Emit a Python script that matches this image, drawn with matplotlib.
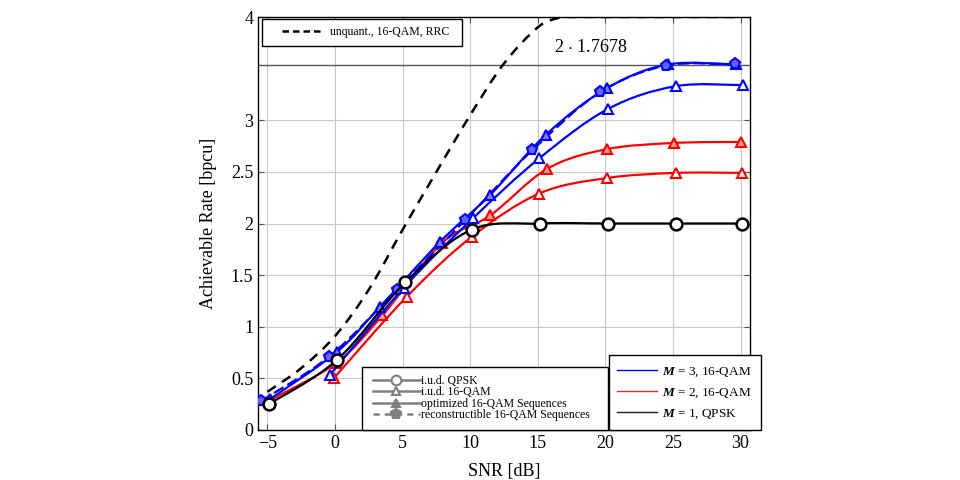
import numpy as np
import matplotlib
matplotlib.use('Agg')
import matplotlib.pyplot as plt
from matplotlib.path import Path
from matplotlib.patches import PathPatch, Rectangle
from matplotlib.lines import Line2D

plt.rcParams['font.family'] = ['Liberation Serif', 'DejaVu Serif']
plt.rcParams['mathtext.fontset'] = 'custom'
plt.rcParams['mathtext.rm'] = 'Liberation Serif'
plt.rcParams['mathtext.it'] = 'Liberation Serif:italic'
plt.rcParams['mathtext.bf'] = 'Liberation Serif:italic:bold'

# ---------------- data ----------------
unq_snr = [-5, -2.5, 0, 2.5, 5, 7.5, 10, 12.5, 15, 16.5, 17.5, 20, 25, 30]
unq_rate = [0.37, 0.60, 0.91, 1.36, 1.94, 2.50, 3.05, 3.55, 3.90, 3.99, 4.00, 4.00, 4.00, 4.00]

qpsk_snr = [-4.9, 0.15, 5.2, 10.1, 15.2, 20.2, 25.2, 30.1]
qpsk_rate = [0.25, 0.68, 1.43, 1.94, 2.00, 2.00, 2.00, 2.00]

iud2_snr = [-0.1, 5.3, 10.1, 15.1, 20.1, 25.2, 30.1]
iud2_rate = [0.50, 1.29, 1.87, 2.29, 2.44, 2.49, 2.49]

opt2_snr = [-4.8, 0.1, 3.5, 7.9, 11.5, 15.7, 20.1, 25.1, 30.0]
opt2_rate = [0.29, 0.65, 1.11, 1.81, 2.08, 2.53, 2.72, 2.78, 2.79]

iud3_snr = [-0.4, 5.1, 10.2, 15.1, 20.2, 25.2, 30.2]
iud3_rate = [0.53, 1.38, 2.05, 2.63, 3.11, 3.33, 3.34]

opt3_snr = [-4.8, 0.17, 3.3, 7.75, 11.5, 15.6, 20.1, 24.6, 29.7]
opt3_rate = [0.30, 0.76, 1.19, 1.82, 2.28, 2.86, 3.31, 3.54, 3.54]

rec3_snr = [-5.5, -0.45, 4.6, 9.6, 14.6, 19.6, 24.5, 29.6]
rec3_rate = [0.28, 0.71, 1.36, 2.03, 2.71, 3.27, 3.53, 3.54]

bound_value = 2 * 1.7678
bound_label = r'2 $\cdot$ 1.7678'

x_ticks = [-5, 0, 5, 10, 15, 20, 25, 30]
y_ticks = [0, 0.5, 1, 1.5, 2, 2.5, 3, 4]
y_ticklabels = ['0', '0.5', '1', '1.5', '2', '2.5', '3', '4']

BLUE = '#0000ff'
RED = '#ff0000'
BLACK = '#000000'
GRAY = '#808080'


def smooth_path(x, y, k=1.0):
    P = np.column_stack([x, y]).astype(float)
    n = len(P)
    verts = [P[0]]
    codes = [Path.MOVETO]
    for i in range(n - 1):
        p0 = P[i - 1] if i > 0 else P[i]
        p1 = P[i]
        p2 = P[i + 1]
        p3 = P[i + 2] if i + 2 < n else P[i + 1]
        c1 = p1 + (p2 - p0) / 6 * k
        c2 = p2 - (p3 - p1) / 6 * k
        verts += [c1, c2, p2]
        codes += [Path.CURVE4] * 3
    return Path(verts, codes)


def curve(ax, x, y, color, ls='-', lw=1.6, z=3, marker=None, mfc='white', ms=7, mew=1.5):
    ax.add_patch(PathPatch(smooth_path(x, y), fill=False, edgecolor=color,
                           linestyle=ls, lw=lw, zorder=z))
    if marker is not None:
        ax.plot(x, y, linestyle='none', marker=marker, ms=ms, mfc=mfc, mec=color,
                mew=mew, zorder=z + 0.5)


fig = plt.figure(figsize=(9.6, 4.8), dpi=100)
ax = fig.add_axes([258 / 960, 50 / 480, 492 / 960, 413 / 480])
ax.set_xlim(-5.7, 30.7)
ax.set_ylim(0, 4)

ax.set_xticks(x_ticks)
ax.set_yticks(y_ticks)
ax.set_yticklabels(y_ticklabels)
ax.grid(True, color='#c8c8c8', lw=0.8, zorder=0)
ax.set_axisbelow(True)
ax.tick_params(direction='in', top=True, right=True, length=4, labelsize=13,
               color='#555555')
for s in ax.spines.values():
    s.set_linewidth(1.0)

ax.axhline(bound_value, color='#555555', lw=1.0, zorder=1)
ax.text(18.9, 3.70, bound_label, ha='center', va='center', fontsize=13)

# unquantized bound
curve(ax, unq_snr, unq_rate, BLACK, ls=(0, (4, 3)), lw=1.8, z=2)

# M = 2 (red)
curve(ax, iud2_snr, iud2_rate, RED, marker='^', mfc='white', z=3)
curve(ax, opt2_snr, opt2_rate, RED, marker='^', mfc='#ff9a9a', z=3.2)
# M = 3 (blue)
curve(ax, iud3_snr, iud3_rate, BLUE, marker='^', mfc='white', z=4)
curve(ax, opt3_snr, opt3_rate, BLUE, marker='^', mfc='#8080ff', z=4.2)
curve(ax, rec3_snr, rec3_rate, BLUE, ls=(0, (5, 2)), marker='p', mfc='#6464ff', ms=8, z=4.6)
# M = 1 (black)
curve(ax, qpsk_snr, qpsk_rate, BLACK, marker='o', mfc='white', ms=8.5, mew=1.8, z=6)

ax.set_xlabel('SNR [dB]', fontsize=13, labelpad=8)
ax.set_ylabel('Achievable Rate [bpcu]', fontsize=13, labelpad=10)

# ---------------- legends ----------------
def frame(x0, y0, w, h):
    ax.add_patch(Rectangle((x0, y0), w, h, transform=ax.transAxes, facecolor='white',
                           edgecolor='black', lw=1.0, zorder=9, clip_on=False))

# legend 1
frame(0.0081, 0.930, 0.4065, 0.066)
h1 = [Line2D([], [], color=BLACK, ls=(0, (2.6, 1.6)), lw=1.8)]
lg1 = ax.legend(h1, ['unquant., 16-QAM, RRC'], loc='upper left',
                bbox_to_anchor=(0.048, 0.979), frameon=False, fontsize=8.5,
                handlelength=3.4, handletextpad=0.7, borderpad=0, borderaxespad=0)
lg1.set_zorder(10)
ax.add_artist(lg1)

# legend 2 (marker legend)
frame(0.211, 0.0, 0.50, 0.153)
h2 = [Line2D([], [], color=GRAY, lw=1.8, marker='o', ms=7, mfc='white', mew=1.5),
      Line2D([], [], color=GRAY, lw=1.8, marker='^', ms=6, mfc='white', mew=1.5),
      Line2D([], [], color=GRAY, lw=1.8, marker='^', ms=6, mfc=GRAY, mew=1.5),
      Line2D([], [], color=GRAY, lw=1.8, ls=(0, (2.5, 2)), marker='p', ms=7, mfc=GRAY, mew=1.5)]
l2 = ['i.u.d. QPSK', 'i.u.d. 16-QAM', 'optimized 16-QAM Sequences',
      'reconstructible 16-QAM Sequences']
lg2 = ax.legend(h2, l2, loc='upper left', bbox_to_anchor=(0.233, 0.133),
                frameon=False, fontsize=8.5, labelspacing=-0.05,
                handlelength=4.0, handletextpad=0.1, borderpad=0, borderaxespad=0)
lg2.set_zorder(10)
ax.add_artist(lg2)

# legend 3 (colour legend)
frame(0.7134, 0.0, 0.309, 0.1816)
h3 = [Line2D([], [], color=BLUE, lw=1.0),
      Line2D([], [], color='#e03030', lw=1.0),
      Line2D([], [], color='#222222', lw=1.0)]
l3 = [r'$\mathbf{M}$ = 3, 16-QAM', r'$\mathbf{M}$ = 2, 16-QAM', r'$\mathbf{M}$ = 1, QPSK']
lg3 = ax.legend(h3, l3, loc='upper left', bbox_to_anchor=(0.7297, 0.156),
                frameon=False, fontsize=9.5, labelspacing=0.55,
                handlelength=3.0, handletextpad=0.4, borderpad=0, borderaxespad=0)
lg3.set_zorder(10)
for t in lg3.get_texts():
    t.set_clip_on(False)

fig.savefig('out.png', dpi=100)
